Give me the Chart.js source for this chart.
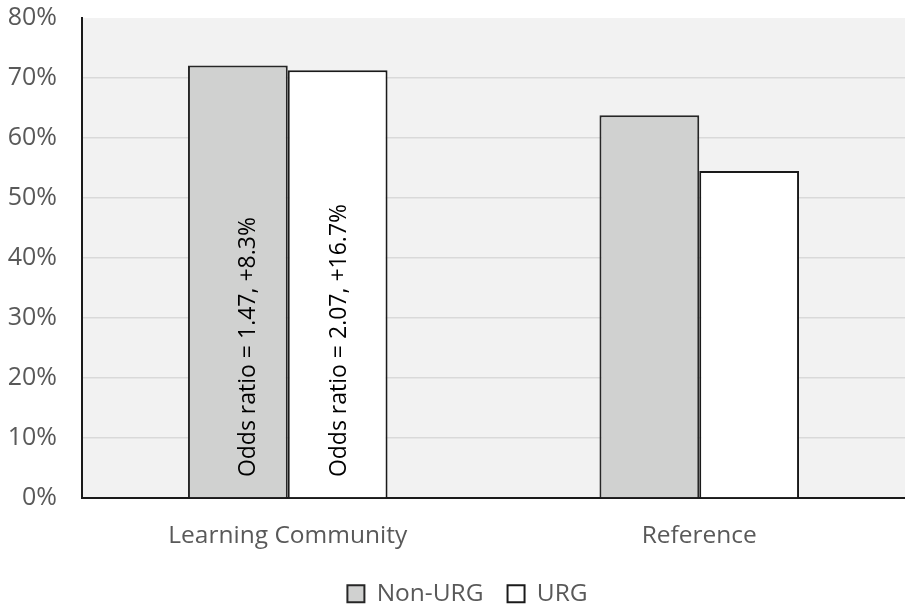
<!DOCTYPE html>
<html>
<head>
<meta charset="utf-8">
<script src="https://cdn.jsdelivr.net/npm/chart.js@4/dist/chart.umd.min.js"></script>
<style>
html,body{margin:0;padding:0;background:#fff;}
#wrap{width:905px;height:605px;}
</style>
</head>
<body>
<div id="wrap"><canvas id="c" width="905" height="605"></canvas></div>
<script>
const categories = ["Learning Community", "Reference"];
const seriesNames = ["Non-URG", "URG"];
const nonUrg = [72.1, 63.8];
const urg = [71.3, 54.5];
const yTicks = [0, 10, 20, 30, 40, 50, 60, 70, 80];
const annotationTexts = ["Odds ratio = 1.47, +8.3%", "Odds ratio = 2.07, +16.7%"];
const annotationDatasets = [0, 1];
const annotationIndex = [0, 0];

const FONT = "'Open Sans', 'Noto Sans', sans-serif";
const TXT = "#595959";
const labelNudge = [10.5, 1.5];

const plotBg = {
  id: "plotBg",
  beforeDraw(chart) {
    const {ctx, chartArea: a} = chart;
    ctx.save();
    ctx.fillStyle = "#f2f2f2";
    ctx.fillRect(a.left, a.top, a.right - a.left, a.bottom - a.top);
    ctx.restore();
  }
};

const legendShift = {
  id: "legendShift",
  afterLayout(chart) {
    if (chart.legend) { chart.legend.left += 15; chart.legend.right += 15; }
  }
};

const barText = {
  id: "barText",
  afterDatasetsDraw(chart) {
    const {ctx} = chart;
    const y = chart.scales.y;
    annotationTexts.forEach((t, i) => {
      const bar = chart.getDatasetMeta(annotationDatasets[i]).data[annotationIndex[i]];
      ctx.save();
      ctx.translate(bar.x + labelNudge[i], y.getPixelForValue(0) - 21);
      ctx.rotate(-Math.PI / 2);
      ctx.font = "23px " + FONT;
      ctx.fillStyle = "#000";
      ctx.textAlign = "left";
      ctx.textBaseline = "middle";
      ctx.fillText(t, 0, 0);
      ctx.restore();
    });
  }
};

new Chart(document.getElementById("c"), {
  type: "bar",
  data: {
    labels: categories,
    datasets: [
      {label: seriesNames[0], data: nonUrg, backgroundColor: "#d0d1d0", borderColor: "#262626", borderWidth: 2, borderSkipped: "bottom"},
      {label: seriesNames[1], data: urg, backgroundColor: "#ffffff", borderColor: "#1a1a1a", borderWidth: 2, borderSkipped: "bottom"}
    ]
  },
  options: {
    responsive: false,
    animation: false,
    devicePixelRatio: 1,
    layout: {padding: {top: 18, right: 0, left: 0, bottom: -11}},
    datasets: {bar: {categoryPercentage: 0.485, barPercentage: 1}},
    scales: {
      x: {
        grid: {display: false, drawTicks: false},
        border: {display: true, color: "#1a1a1a", width: 2},
        ticks: {color: TXT, font: {family: FONT, size: 24.5}, padding: 23},
        afterFit(s) { s.paddingLeft = 0; s.paddingRight = 0; s.height = s.height - 16; }
      },
      y: {
        min: 0, max: 80,
        afterBuildTicks(s) { s.ticks = yTicks.map(v => ({value: v})); },
        afterFit(s) { s.width = 82; s.paddingTop = 0; s.paddingBottom = 0; },
        grid: {color: (c) => c.tick && c.tick.value === 80 ? "rgba(0,0,0,0)" : "#d9d9d9", lineWidth: 1.5, drawTicks: false},
        border: {display: true, color: "#1a1a1a", width: 2},
        ticks: {color: TXT, font: {family: FONT, size: 25}, padding: 25, callback: v => v + "%"}
      }
    },
    plugins: {
      legend: {
        position: "bottom",
        labels: {color: TXT, font: {family: FONT, size: 24.5}, boxWidth: 17, boxHeight: 17, padding: 24}
      },
      tooltip: {enabled: false}
    }
  },
  plugins: [plotBg, legendShift, barText]
});
</script>
</body>
</html>
